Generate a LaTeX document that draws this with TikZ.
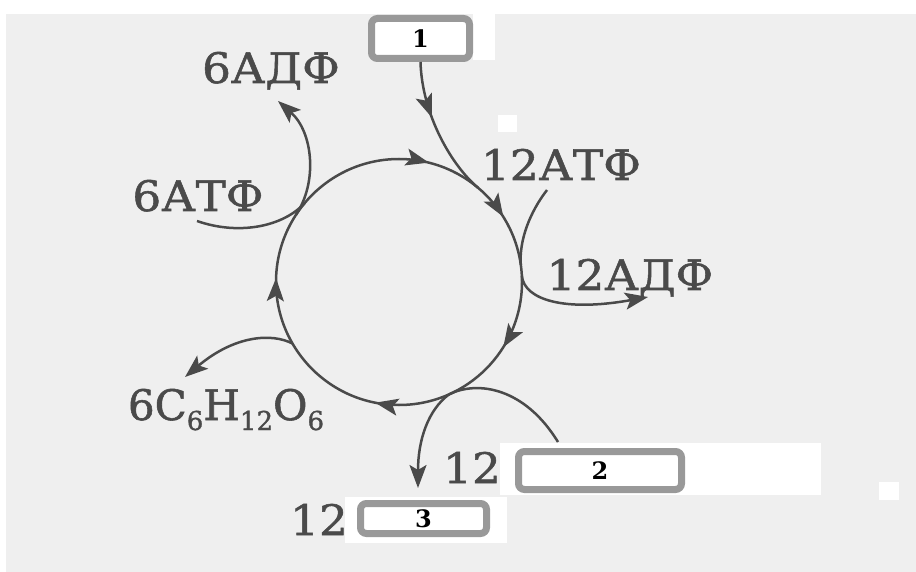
\documentclass[tikz,border=0pt]{standalone}
\usepackage{fontspec}
\newfontfamily\lblfont[FakeBold=1.3,FakeStretch=1.08]{DejaVu Serif}
\newfontfamily\glufont[FakeBold=1.3]{DejaVu Serif}
\newfontfamily\numfont{DejaVu Serif}
\usetikzlibrary{arrows.meta,decorations.markings}
\definecolor{ink}{HTML}{4A4A4A}
\definecolor{paper}{HTML}{EFEFEF}
\definecolor{frame}{HTML}{999999}
\begin{document}
\begin{tikzpicture}[x=1pt,y=-1pt,
  >={Stealth[length=23pt,width=17pt,inset=5pt]},
  flow/.style={draw=ink,line width=2.5pt},
  lbl/.style={text=ink,inner sep=0pt,anchor=base,font=\lblfont\fontsize{42}{42}\selectfont},
  slot/.style={draw=frame,line width=7pt,fill=white,rounded corners=6pt,inner sep=0pt,
    font=\numfont\bfseries\fontsize{24}{24}\selectfont,text=black},
  midtip/.style={postaction={decorate},decoration={markings,mark=at position #1 with {\arrow{>}}}}
]
% page and paper tone
\useasboundingbox (0,0) rectangle (916,572);
\fill[white] (0,0) rectangle (916,572);
\fill[paper] (6,14) rectangle (916,572);
\fill[white] (473,14) rectangle (495,60);
\fill[white] (498,115) rectangle (517,132);
\fill[white] (500,443) rectangle (821,495);
\fill[white] (345,497) rectangle (507,543);
\fill[white] (879,482) rectangle (899,500);

% the cycle
\coordinate (C) at (399,282);
\draw[flow,postaction={decorate},decoration={markings,
    mark=at position 0.089 with {\arrow{>}},
    mark=at position 0.281 with {\arrow{>}},
    mark=at position 0.505 with {\arrow{>}},
    mark=at position 0.789 with {\arrow{>}},
    mark=at position 0.911 with {\arrow{>}}}]
  (C) ++(0:123) arc[start angle=0,end angle=360,radius=123];

% junction points on the cycle
\path (C) ++(-50:123) coordinate (j1);
\path (C) ++(-140:123) coordinate (j2);
\path (C) ++(-147:123) coordinate (j3);
\path (C) ++(-8:123) coordinate (j4);
\path (C) ++(-3:123) coordinate (j5);
\path (C) ++(150:123) coordinate (j6);
\path (C) ++(66:123) coordinate (j7);

% answer slots
\node[slot,minimum width=98pt,minimum height=40pt] (b1) at (420.5,38.5) {1};
\node[slot,minimum width=163pt,minimum height=38pt] (b2) at (600,470.5) {2};
\node[slot,minimum width=126pt,minimum height=30pt] (b3) at (423.5,518.5) {3};

% labels
\node[lbl] (adf6) at (271,83) {6АДФ};
\node[lbl] (atf6) at (198,211) {6АТФ};
\node[lbl] (atf12) at (561,180) {12АТФ};
\node[lbl] (adf12) at (630,290) {12АДФ};
\node[lbl,font=\glufont\fontsize{42}{42}\selectfont] (glu) at (226,420)
  {6C\raisebox{-10pt}{\fontsize{26}{26}\selectfont 6}H\raisebox{-10pt}{\fontsize{26}{26}\selectfont 12}O\raisebox{-10pt}{\fontsize{26}{26}\selectfont 6}};
\node[lbl] (n3) at (319,535) {12};
\node[lbl] (n2) at (472,483) {12};

% free ends of the side branches
\coordinate (atf6in) at (197,221);
\coordinate (adf6out) at (278,101);
\coordinate (atf12in) at (547,190);
\coordinate (adf12out) at (648,297);
\coordinate (gluout) at (185,377);
\coordinate (p3out) at (418,488);
\coordinate (in2) at (558,442);

% branches
\draw[flow,midtip=0.4] (b1.south) .. controls (422,115) and (452,166) .. (j1);
\draw[flow] (atf6in) .. controls (240,236) and (284,226) .. (j2);
\draw[flow,->] (j3) .. controls (318,182) and (313,132) .. (adf6out);
\draw[flow] (atf12in) .. controls (530,212) and (519,240) .. (j4);
\draw[flow,->] (j5) .. controls (524,300) and (565,312) .. (adf12out);
\draw[flow,->] (j6) .. controls (272,333) and (235,335) .. (gluout);
\draw[flow,->] (j7) .. controls (428,410) and (418,440) .. (p3out);
\draw[flow] (in2) .. controls (525,388) and (478,380) .. (j7);
\end{tikzpicture}
\end{document}
